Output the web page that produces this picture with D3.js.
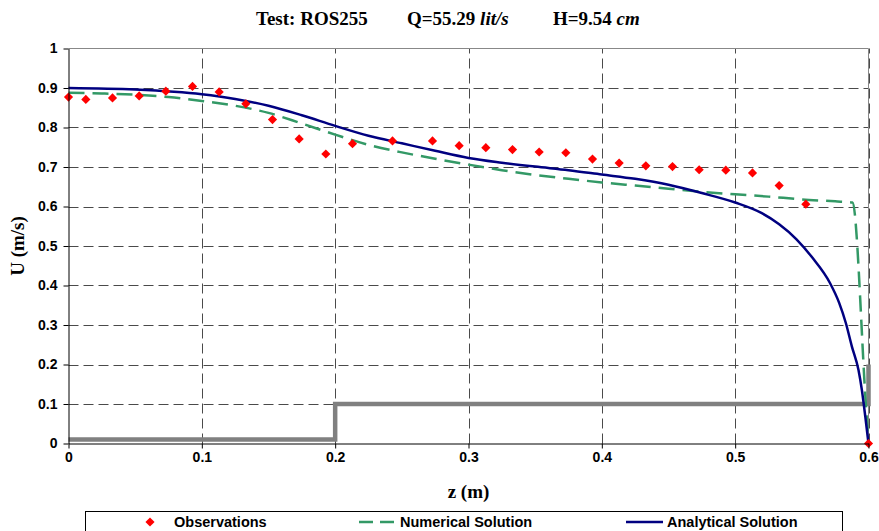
<!DOCTYPE html>
<html>
<head>
<meta charset="utf-8">
<script src="https://cdn.jsdelivr.net/npm/d3@7"></script>
<style>
  body { margin: 0; background: #fff; }
  svg { display: block; }
</style>
</head>
<body>
<div id="chart"></div>
<script>
// Observations (red diamonds)
const obsZ = [0, 0.013, 0.033, 0.053, 0.073, 0.093, 0.113, 0.133, 0.153, 0.173, 0.193, 0.213,
  0.243, 0.273, 0.293, 0.313, 0.333, 0.353, 0.373, 0.393, 0.413, 0.433, 0.453, 0.473, 0.493,
  0.513, 0.533, 0.553, 0.6];
const obsU = [0.877, 0.871, 0.875, 0.880, 0.892, 0.904, 0.890, 0.860, 0.820, 0.771, 0.733, 0.759,
  0.766, 0.766, 0.754, 0.749, 0.744, 0.738, 0.736, 0.720, 0.710, 0.703, 0.701, 0.693, 0.692,
  0.685, 0.653, 0.606, 0];

// Numerical solution (green dashed)
const numZ = [0, 0.025, 0.05, 0.075, 0.1, 0.125, 0.15, 0.175, 0.2, 0.225, 0.25, 0.275, 0.3,
  0.325, 0.35, 0.375, 0.4, 0.425, 0.45, 0.475, 0.5, 0.525, 0.55, 0.575, 0.588, 0.598, 0.6];
const numU = [0.888, 0.886, 0.883, 0.877, 0.867, 0.855, 0.837, 0.810, 0.782, 0.756, 0.737, 0.721,
  0.706, 0.692, 0.680, 0.670, 0.661, 0.653, 0.645, 0.637, 0.631, 0.625, 0.618, 0.613, 0.610,
  0.1, 0];

// Analytical solution (navy line)
const anaZ = [0, 0.05, 0.1, 0.125, 0.15, 0.175, 0.2, 0.225, 0.25, 0.275, 0.3, 0.325, 0.35,
  0.375, 0.4, 0.425, 0.45, 0.475, 0.5, 0.52, 0.533, 0.546, 0.558, 0.571, 0.578, 0.583, 0.5875,
  0.5925, 0.595, 0.5976, 0.6];
const anaU = [0.900, 0.896, 0.884, 0.872, 0.855, 0.831, 0.804, 0.779, 0.760, 0.741, 0.723, 0.711,
  0.701, 0.692, 0.681, 0.670, 0.655, 0.634, 0.610, 0.583, 0.555, 0.517, 0.470, 0.407, 0.356,
  0.305, 0.246, 0.186, 0.136, 0.068, 0];

// Bed profile (gray step)
const bedZ = [0, 0.2, 0.2, 0.6, 0.6];
const bedU = [0.01, 0.01, 0.1, 0.1, 0.2];

const xTicks = [0, 0.1, 0.2, 0.3, 0.4, 0.5, 0.6];
const yTicks = [0, 0.1, 0.2, 0.3, 0.4, 0.5, 0.6, 0.7, 0.8, 0.9, 1];

const legendLabels = ["Observations", "Numerical Solution", "Analytical Solution"];

const width = 879;
const height = 531;
const plot = { left: 68.5, right: 868.5, top: 48.5, bottom: 443.5 };

const svg = d3.select("#chart")
  .append("svg")
  .attr("width", width)
  .attr("height", height);

svg.append("rect").attr("width", width).attr("height", height).attr("fill", "#fff");

const x = d3.scaleLinear().domain([0, 0.6]).range([plot.left, plot.right]);
const y = d3.scaleLinear().domain([0, 1]).range([plot.bottom, plot.top]);

const sans = "'Liberation Sans', Arial, sans-serif";
const serif = "'Liberation Serif', 'Times New Roman', serif";

// grid lines
svg.append("g")
  .selectAll("line")
  .data(yTicks.filter((d) => d > 0 && d < 1))
  .join("line")
  .attr("x1", plot.left)
  .attr("x2", plot.right)
  .attr("y1", (d) => Math.round(y(d)) + 0.5)
  .attr("y2", (d) => Math.round(y(d)) + 0.5)
  .attr("stroke", "#4a4a4a")
  .attr("stroke-dasharray", "10,5");

svg.append("g")
  .selectAll("line")
  .data(xTicks.filter((d) => d > 0))
  .join("line")
  .attr("x1", (d) => Math.round(x(d)) + 0.5)
  .attr("x2", (d) => Math.round(x(d)) + 0.5)
  .attr("y1", plot.bottom)
  .attr("y2", plot.top)
  .attr("stroke", "#4a4a4a")
  .attr("stroke-dasharray", "10,5");

// plot area border (top + right, gray)
svg.append("path")
  .attr("d", `M${plot.left},${plot.top}H${plot.right}V${plot.bottom}`)
  .attr("fill", "none")
  .attr("stroke", "#888");

const line = d3.line()
  .x((d) => x(d[0]))
  .y((d) => y(d[1]));

// bed step
svg.append("path")
  .datum(d3.zip(bedZ, bedU))
  .attr("fill", "none")
  .attr("stroke", "#808080")
  .attr("stroke-width", 4.5)
  .attr("d", line);

// numerical solution
svg.append("path")
  .datum(d3.zip(numZ, numU))
  .attr("fill", "none")
  .attr("stroke", "#339966")
  .attr("stroke-width", 2.5)
  .attr("stroke-dasharray", "16,8")
  .attr("d", line.curve(d3.curveMonotoneX));

// analytical solution
svg.append("path")
  .datum(d3.zip(anaZ, anaU))
  .attr("fill", "none")
  .attr("stroke", "#000080")
  .attr("stroke-width", 2.5)
  .attr("d", line.curve(d3.curveMonotoneX));

const diamond = d3.symbol().type(d3.symbolSquare).size(42);

svg.append("g")
  .selectAll("path")
  .data(d3.zip(obsZ, obsU))
  .join("path")
  .attr("d", diamond)
  .attr("transform", (d) => `translate(${x(d[0])},${y(d[1])}) rotate(45)`)
  .attr("fill", "#ff0000");

// axes
const xAxis = svg.append("g")
  .attr("transform", `translate(0,${plot.bottom})`)
  .call(d3.axisBottom(x).tickValues(xTicks).tickSize(5).tickSizeOuter(0).tickFormat(d3.format("~g")));

const yAxis = svg.append("g")
  .attr("transform", `translate(${plot.left},0)`)
  .call(d3.axisLeft(y).tickValues(yTicks).tickSize(5).tickSizeOuter(0).tickFormat(d3.format("~g")));

[xAxis, yAxis].forEach((g) => {
  g.select(".domain").attr("stroke", "#000");
  g.selectAll(".tick line").attr("stroke", "#000");
  g.selectAll("text")
    .attr("fill", "#000")
    .style("font-family", sans)
    .style("font-weight", "bold")
    .style("font-size", "14px");
});
xAxis.selectAll("text").attr("y", 9);
yAxis.selectAll("text").attr("x", -11);

// title
const title = svg.append("text")
  .attr("y", 25)
  .style("font-family", serif)
  .style("font-weight", "bold")
  .style("font-size", "19px");
title.append("tspan").attr("x", 256).text("Test: ROS255");
title.append("tspan").attr("x", 407).text("Q=55.29 ");
title.append("tspan").style("font-style", "italic").text("lit/s");
title.append("tspan").attr("x", 553).text("H=9.54 ");
title.append("tspan").style("font-style", "italic").text("cm");

// axis titles
svg.append("text")
  .attr("x", (plot.left + plot.right) / 2)
  .attr("y", 498)
  .attr("text-anchor", "middle")
  .style("font-family", serif)
  .style("font-weight", "bold")
  .style("font-size", "19px")
  .text("z (m)");

svg.append("text")
  .attr("transform", `translate(24,${(plot.top + plot.bottom) / 2}) rotate(-90)`)
  .attr("text-anchor", "middle")
  .style("font-family", serif)
  .style("font-weight", "bold")
  .style("font-size", "19px")
  .text("U (m/s)");

// legend
const legend = svg.append("g");
legend.append("rect")
  .attr("x", 85.5)
  .attr("y", 511.5)
  .attr("width", 757)
  .attr("height", 40)
  .attr("fill", "#fff")
  .attr("stroke", "#000");

const ly = 522;
legend.append("path")
  .attr("d", diamond)
  .attr("transform", `translate(150,${ly}) rotate(45)`)
  .attr("fill", "#ff0000");
legend.append("line")
  .attr("x1", 359).attr("x2", 396).attr("y1", ly).attr("y2", ly)
  .attr("stroke", "#339966").attr("stroke-width", 2.5).attr("stroke-dasharray", "14,7");
legend.append("line")
  .attr("x1", 626).attr("x2", 663).attr("y1", ly).attr("y2", ly)
  .attr("stroke", "#000080").attr("stroke-width", 2.5);

legend.selectAll("text")
  .data(legendLabels)
  .join("text")
  .attr("x", (d, i) => [174, 400, 667][i])
  .attr("y", 527)
  .style("font-family", sans)
  .style("font-weight", "bold")
  .style("font-size", "14.5px")
  .text((d) => d);
</script>
</body>
</html>
